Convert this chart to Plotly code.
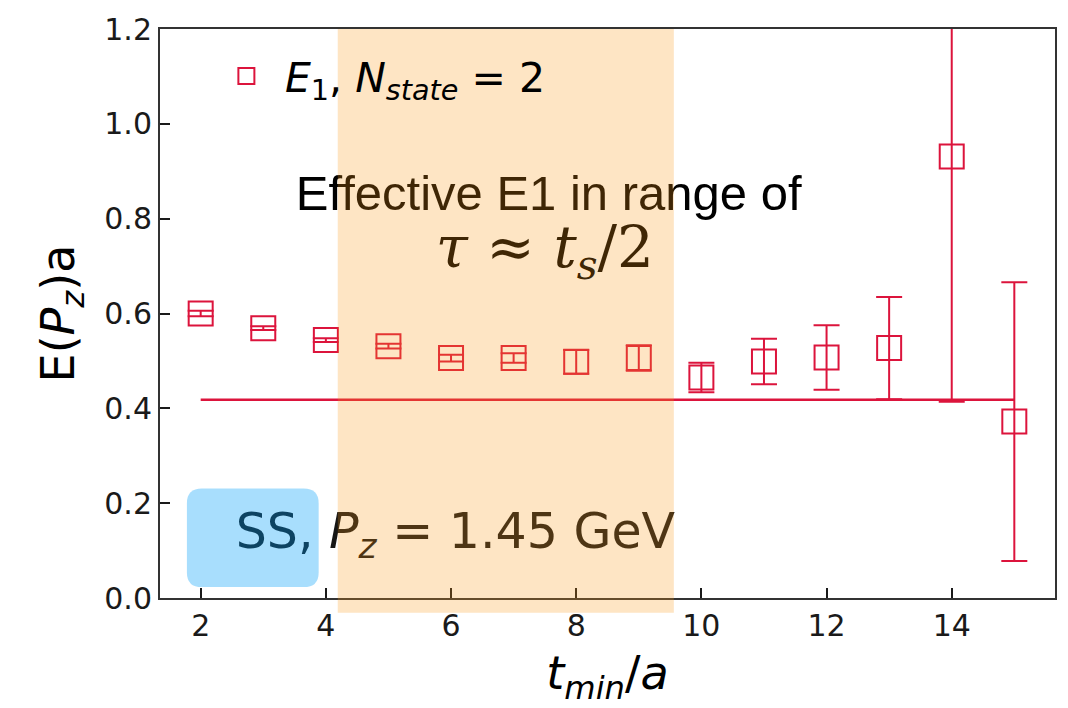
import plotly.graph_objects as go

# ---- data ----
t_min = [2, 3, 4, 5, 6, 7, 8, 9, 10, 11, 12, 13, 14, 15]
E1 = [0.600, 0.569, 0.544, 0.531, 0.506, 0.506, 0.498, 0.506, 0.465, 0.499, 0.507, 0.527, 0.931, 0.372]
E1_err = [0.006, 0.004, 0.004, 0.005, 0.007, 0.010, 0.025, 0.027, 0.031, 0.048, 0.068, 0.108, 0.517, 0.294]

fit_x = [2, 15]
fit_y = [0.418, 0.418]

x_ticks = [2, 4, 6, 8, 10, 12, 14]
y_ticks = [0.0, 0.2, 0.4, 0.6, 0.8, 1.0, 1.2]

shade_range = [4.19, 9.56]          # highlighted t_min window
ss_box = [1.78, 3.885, 0.023, 0.231]  # x0, x1, y0, y1

RED = "rgb(220,20,60)"
INK = "#1a1a1a"

fig = go.Figure()

fig.add_trace(go.Scatter(
    x=fit_x, y=fit_y, mode="lines",
    line=dict(color=RED, width=2.5),
    showlegend=False, hoverinfo="skip",
))

fig.add_trace(go.Scatter(
    x=t_min, y=E1, mode="markers",
    name="<i>E</i><sub>1</sub>, <i>N</i><sub><i>state</i></sub> = 2",
    marker=dict(symbol="square-open", size=24, color=RED, line=dict(width=2, color=RED)),
    error_y=dict(type="data", array=E1_err, visible=True, color=RED, thickness=2, width=13),
    cliponaxis=True,
))

# texts drawn as text traces so the overlay boxes tint them
fig.add_trace(go.Scatter(
    x=[7.56], y=[0.845], mode="text",
    text=["Effective E1 in range of"],
    textfont=dict(family="Liberation Sans, Arial, sans-serif", size=49, color="black"),
    showlegend=False, hoverinfo="skip", cliponaxis=False,
))
fig.add_trace(go.Scatter(
    x=[7.5], y=[0.728], mode="text",
    text=["<i>τ</i> ≈ <i>t<sub>s</sub></i>/2"],
    textfont=dict(family="DejaVu Serif, serif", size=58, color="black"),
    showlegend=False, hoverinfo="skip", cliponaxis=False,
))
fig.add_trace(go.Scatter(
    x=[6.07], y=[0.132], mode="text",
    text=["SS, <i>P<sub>z</sub></i> = 1.45 GeV"],
    textfont=dict(family="DejaVu Sans, sans-serif", size=49, color="#151515"),
    showlegend=False, hoverinfo="skip", cliponaxis=False,
))

# orange highlight overlay
fig.add_shape(type="rect", xref="x", yref="paper",
              x0=shade_range[0], x1=shade_range[1], y0=-0.026, y1=1.0,
              fillcolor="rgb(252,152,20)", opacity=0.25, line=dict(width=0), layer="above")

# rounded blue box
x0, x1, y0, y1 = ss_box
rx, ry = 0.24, 0.031
path = (f"M {x0+rx},{y0} L {x1-rx},{y0} Q {x1},{y0} {x1},{y0+ry} "
        f"L {x1},{y1-ry} Q {x1},{y1} {x1-rx},{y1} L {x0+rx},{y1} Q {x0},{y1} {x0},{y1-ry} "
        f"L {x0},{y0+ry} Q {x0},{y0} {x0+rx},{y0} Z")
fig.add_shape(type="path", xref="x", yref="y", path=path,
              fillcolor="rgb(0,159,250)", opacity=0.34, line=dict(width=0), layer="above")

axis_common = dict(
    showgrid=False, zeroline=False,
    showline=True, linecolor="#333333", linewidth=2, mirror=True,
    ticks="inside", ticklen=10, tickwidth=1.5, tickcolor=INK,
    tickfont=dict(family="DejaVu Sans, sans-serif", size=30, color=INK),
)

fig.update_xaxes(
    range=[1.35, 15.65], tickvals=x_ticks, ticktext=[str(v) for v in x_ticks],
    title=dict(text="<i>t</i><sub><i>min</i></sub>/<i>a</i>",
               font=dict(family="DejaVu Sans, sans-serif", size=46, color="black")),
    **axis_common,
)
fig.update_yaxes(
    range=[0, 1.2], tickvals=y_ticks, ticktext=[f"{v:.1f}" for v in y_ticks],
    title=dict(text="E(<i>P</i><sub><i>z</i></sub>)a",
               font=dict(family="DejaVu Sans, sans-serif", size=46, color="black")),
    **axis_common,
)

fig.update_layout(
    width=1068, height=708,
    margin=dict(l=160, r=11, t=22, b=110),
    paper_bgcolor="white", plot_bgcolor="white",
    showlegend=True,
    legend=dict(x=0.0535, y=0.917, xanchor="left", yanchor="middle",
                bgcolor="rgba(0,0,0,0)", borderwidth=0,
                font=dict(family="DejaVu Sans, sans-serif", size=41, color="black"),
                itemwidth=67),
)

fig.write_html("out.html")
